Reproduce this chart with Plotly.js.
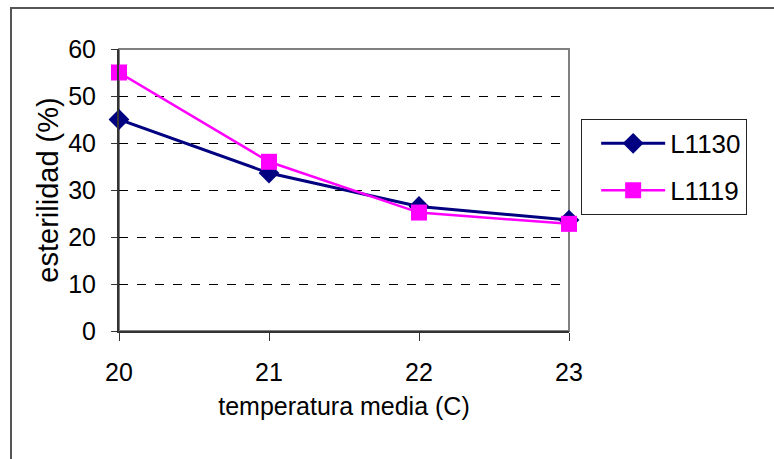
<!DOCTYPE html>
<html>
<head>
<meta charset="utf-8">
<script src="https://cdn.plot.ly/plotly-3.0.1.min.js"></script>
<style>
html,body{margin:0;padding:0;background:#fff;}
#wrap{position:relative;width:774px;height:459px;overflow:hidden;}
#chart{width:774px;height:459px;}
#frame{position:absolute;left:10px;top:7px;right:-5px;bottom:-5px;border-left:2px solid #555;border-top:2px solid #555;pointer-events:none;}
</style>
</head>
<body>
<div id="wrap"><div id="chart"></div><div id="frame"></div></div>
<script>
const temperatures = [20, 21, 22, 23];
const l1130 = [45, 33.6, 26.5, 23.6];
const l1119 = [55, 36, 25.2, 22.8];
const yTicks = [0, 10, 20, 30, 40, 50, 60];
const seriesNames = ["L1130", "L1119"];

const font = "Liberation Sans, Arial, sans-serif";

const traces = [
  {
    x: temperatures, y: l1130, name: seriesNames[0], type: "scatter", mode: "lines+markers",
    line: {color: "#000080", width: 3},
    marker: {symbol: "diamond", size: 16, color: "#000080"},
    legendgroup: "a", cliponaxis: false
  },
  {
    x: temperatures, y: l1119, name: seriesNames[1], type: "scatter", mode: "lines+markers",
    line: {color: "#FF00FF", width: 2.5},
    marker: {symbol: "square", size: 16, color: "#FF00FF"},
    legendgroup: "b", cliponaxis: false
  }
];

const layout = {
  width: 774, height: 459,
  margin: {l: 119, r: 205, t: 49, b: 128},
  paper_bgcolor: "#fff", plot_bgcolor: "#fff",
  font: {family: font, color: "#000", size: 25},
  showlegend: true,
  legend: {
    x: 1.027, xanchor: "left", y: 0.752, yanchor: "top",
    bordercolor: "#222", borderwidth: 1, bgcolor: "#fff",
    font: {family: font, size: 26, color: "#000"},
    itemwidth: 64, indentation: 14, tracegroupgap: 10, traceorder: "grouped"
  },
  xaxis: {
    range: [20, 23], tickvals: temperatures, ticktext: temperatures.map(String),
    showgrid: false, zeroline: false,
    showline: true, linecolor: "#333", linewidth: 2,
    ticks: "outside", ticklen: 8, tickcolor: "#333", tickwidth: 1,
    ticklabelstandoff: 10,
    tickfont: {family: font, size: 25},
    title: {text: "temperatura media (C)", font: {family: font, size: 25}, standoff: 12}
  },
  yaxis: {
    range: [0, 60], tickvals: yTicks,
    showgrid: true, gridcolor: "#000", gridwidth: 1, griddash: "dash",
    zeroline: false,
    showline: true, linecolor: "#333", linewidth: 2,
    ticks: "outside", ticklen: 6, tickcolor: "#333", tickwidth: 1,
    ticklabelstandoff: 10,
    tickfont: {family: font, size: 25},
    title: {text: "esterilidad (%)", font: {family: font, size: 29}, standoff: 1}
  },
  shapes: [
    {type: "rect", xref: "paper", yref: "paper", x0: 0, x1: 1, y0: 0, y1: 1,
     line: {color: "#808080", width: 2}, layer: "between"}
  ]
};

Plotly.newPlot("chart", traces, layout, {displayModeBar: false, staticPlot: true});
</script>
</body>
</html>
